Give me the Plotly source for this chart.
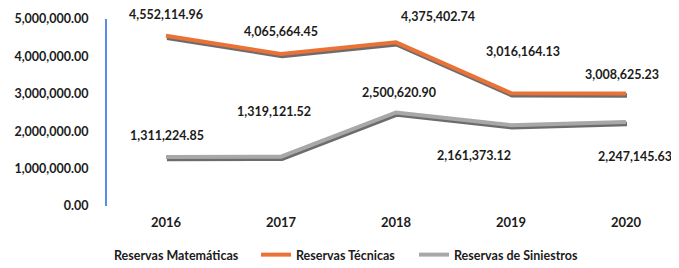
import plotly.graph_objects as go

# ---- data ----
years = ["2016", "2017", "2018", "2019", "2020"]
reservas_matematicas = [None, None, None, None, None]
reservas_tecnicas = [4552114.96, 4065664.45, 4375402.74, 3016164.13, 3008625.23]
reservas_siniestros = [1311224.85, 1319121.52, 2500620.90, 2161373.12, 2247145.63]
y_tick_values = [0, 1000000, 2000000, 3000000, 4000000, 5000000]

# ---- style ----
PAGE = 8  # default body margin of the html page
W, H = 679 - PAGE, 268 - PAGE
ML, MR, MT, MB = 99, 0, 11, 62
plot_w = W - ML - MR
plot_h = H - MT - MB
x_range = [-0.513, 4.461]
y_range = [0, 5000000]
px_per_x = plot_w / (x_range[1] - x_range[0])
px_per_y = plot_h / (y_range[1] - y_range[0])
shadow_dx, shadow_dy = 1.0, 2.0

ORANGE = "#EA7236"
GRAY = "#A8A8A8"
SHADOW = "rgba(45,45,45,0.7)"
TXT = "#1b1b1b"
FONT = "Lato"

# label pixel offsets (dx, dy-up) per point
off_tec = [(0, 21), (0, 22), (42, 26), (12, 42), (-4, 19)]
off_sin = [(1, 21), (-7, 45), (3, 20), (-37, -30), (9, -35)]

fig = go.Figure()

# shadows on base (hidden, shifted) axes
for vals in (reservas_tecnicas, reservas_siniestros):
    fig.add_trace(go.Scatter(x=years, y=vals, mode="lines", xaxis="x", yaxis="y",
                             line=dict(color=SHADOW, width=4.5, shape="linear"),
                             showlegend=False, hoverinfo="skip"))

fig.add_trace(go.Scatter(x=years, y=reservas_matematicas, mode="lines", name="Reservas Matemáticas",
                         xaxis="x2", yaxis="y2", line=dict(color="rgba(0,0,0,0)", width=4),
                         legend="legend"))
fig.add_trace(go.Scatter(x=years, y=reservas_tecnicas, mode="lines", name="Reservas Técnicas",
                         xaxis="x2", yaxis="y2", line=dict(color=ORANGE, width=4),
                         legend="legend2"))
fig.add_trace(go.Scatter(x=years, y=reservas_siniestros, mode="lines", name="Reservas de Siniestros",
                         xaxis="x2", yaxis="y2", line=dict(color=GRAY, width=4),
                         legend="legend3"))

annotations = []
for vals, offs in ((reservas_tecnicas, off_tec), (reservas_siniestros, off_sin)):
    for i, (v, (dx, dy)) in enumerate(zip(vals, offs)):
        annotations.append(dict(x=i, y=v, xref="x2", yref="y2", text=f"{v:,.2f}",
                                showarrow=False, xshift=dx, yshift=dy,
                                font=dict(family=FONT, size=12.5, color=TXT, weight="bold")))

def lx(px_screen):
    return (px_screen - PAGE - ML) / plot_w

LEG_Y = -49 / plot_h

legend_common = dict(orientation="h", yanchor="middle", xanchor="left",
                     bgcolor="rgba(0,0,0,0)", borderwidth=0,
                     font=dict(family=FONT, size=12.5, color=TXT, weight="bold"),
                     itemwidth=30, tracegroupgap=0)

fig.update_layout(
    width=W, height=H,
    margin=dict(l=ML, r=MR, t=MT, b=MB, autoexpand=False),
    paper_bgcolor="white", plot_bgcolor="white",
    showlegend=True,
    xaxis=dict(type="category", range=[x_range[0] - shadow_dx / px_per_x, x_range[1] - shadow_dx / px_per_x],
               visible=False, fixedrange=True),
    yaxis=dict(range=[y_range[0] + shadow_dy / px_per_y, y_range[1] + shadow_dy / px_per_y],
               visible=False, fixedrange=True),
    xaxis2=dict(type="category", overlaying="x", range=x_range, showgrid=False, zeroline=False,
                showline=False, ticks="", ticklabelstandoff=7,
                tickfont=dict(family=FONT, size=13, color=TXT, weight="bold")),
    yaxis2=dict(overlaying="y", side="left", range=y_range, tickvals=y_tick_values,
                tickformat=",.2f", showgrid=False, zeroline=False,
                showline=True, linecolor="#5A8EE6", linewidth=2,
                ticks="", ticklabelstandoff=14,
                tickfont=dict(family=FONT, size=12.5, color=TXT, weight="bold")),
    legend=dict(x=lx(74), y=LEG_Y, **legend_common),
    legend2=dict(x=lx(256), y=LEG_Y, **legend_common),
    legend3=dict(x=lx(414), y=LEG_Y, **legend_common),
    annotations=annotations,
)

fig.write_html("out.html")
